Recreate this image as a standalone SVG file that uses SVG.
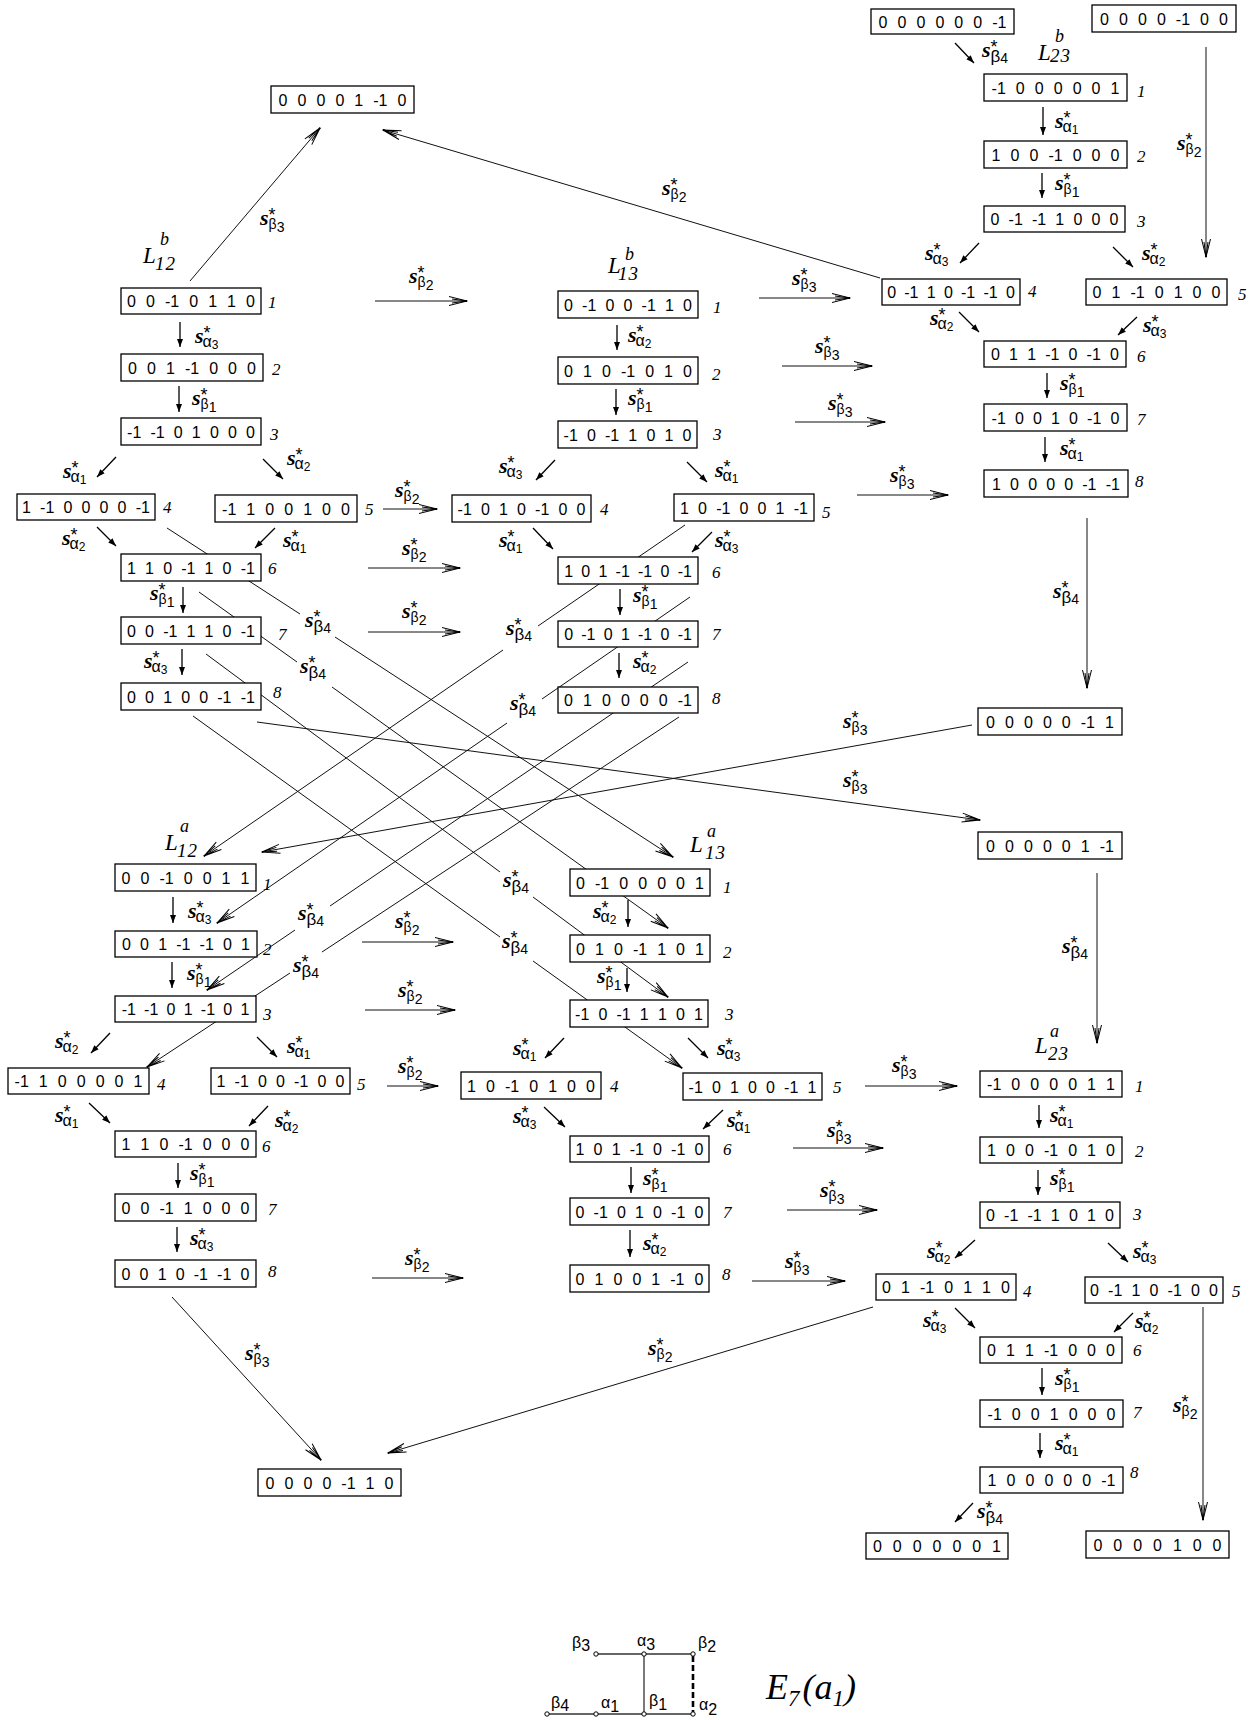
<svg xmlns="http://www.w3.org/2000/svg" width="1253" height="1720" viewBox="0 0 1253 1720">
<style>
.bx{fill:#fff;stroke:#000;stroke-width:1.3}
.v{font-family:"Liberation Sans",Arial,sans-serif;font-size:16px;text-anchor:middle;fill:#000}
.m0{word-spacing:6.5px}.m1{word-spacing:5.6px}.m2{word-spacing:4.7px}.m3{word-spacing:3.8px}
.n{font-family:"Liberation Serif",serif;font-style:italic;font-size:17px;fill:#000}
.ar{stroke:#000;stroke-width:1.3;fill:none;marker-end:url(#fh)}
.ln{stroke:#111;stroke-width:1;fill:none;marker-end:url(#oh)}
.lb{font-family:"Liberation Sans",Arial,sans-serif;fill:#000}
.s{font-family:"Liberation Serif",serif;font-style:italic;font-weight:bold;font-size:22px}
.st{font-size:18px}.sa{font-size:16px}.sd{font-size:12px}.sb{font-size:14px}.sg{font-size:17px}
.L{font-family:"Liberation Serif",serif;font-style:italic;font-size:23px;fill:#000}
.Lp{font-size:18px}.Ls{font-size:19px;letter-spacing:1px}
.dk{font-family:"Liberation Sans",Arial,sans-serif;font-size:16px;fill:#000}
.e7{font-family:"Liberation Serif",serif;font-style:italic;font-size:36px;fill:#000}
.e7s{font-size:23px}
</style>
<defs>
<marker id="fh" markerUnits="userSpaceOnUse" markerWidth="10" markerHeight="8" refX="8" refY="4" orient="auto"><path d="M0,1 L8,4 L0,7 Z" fill="#000"/></marker>
<marker id="oh" markerUnits="userSpaceOnUse" markerWidth="24" markerHeight="14" refX="20" refY="7" orient="auto" overflow="visible"><path d="M2,2.5 L20,7 L2,11.5 M5,5 L20,7 L5,9" fill="none" stroke="#000" stroke-width="1"/><circle cx="19.5" cy="7" r="1" fill="#000"/></marker>
</defs>
<rect width="1253" height="1720" fill="#fff"/>

<g id="groupLabels">
<text class="L"><tspan x="143" y="263">L</tspan><tspan class="Lp" x="160" y="245">b</tspan><tspan class="Ls" x="155" y="270">12</tspan></text>
<text class="L"><tspan x="608" y="273">L</tspan><tspan class="Lp" x="625" y="260">b</tspan><tspan class="Ls" x="618" y="280">13</tspan></text>
<text class="L"><tspan x="1038" y="60">L</tspan><tspan class="Lp" x="1055" y="42">b</tspan><tspan class="Ls" x="1050" y="62">23</tspan></text>
<text class="L"><tspan x="165" y="850">L</tspan><tspan class="Lp" x="180" y="832">a</tspan><tspan class="Ls" x="177" y="857">12</tspan></text>
<text class="L"><tspan x="690" y="852">L</tspan><tspan class="Lp" x="707" y="837">a</tspan><tspan class="Ls" x="705" y="859">13</tspan></text>
<text class="L"><tspan x="1035" y="1053">L</tspan><tspan class="Lp" x="1050" y="1037">a</tspan><tspan class="Ls" x="1048" y="1060">23</tspan></text>
</g>

<g id="connectors">
<line class="ar" x1="180" y1="322" x2="180" y2="347"/>
<line class="ar" x1="179" y1="386" x2="179" y2="412"/>
<line class="ar" x1="116" y1="457" x2="97" y2="477"/>
<line class="ar" x1="263" y1="459" x2="283" y2="479"/>
<line class="ar" x1="97" y1="527" x2="116" y2="546"/>
<line class="ar" x1="275" y1="528" x2="255" y2="548"/>
<line class="ar" x1="183" y1="587" x2="183" y2="613"/>
<line class="ar" x1="182" y1="649" x2="182" y2="675"/>
<line class="ar" x1="617" y1="325" x2="617" y2="350"/>
<line class="ar" x1="616" y1="389" x2="616" y2="415"/>
<line class="ar" x1="555" y1="460" x2="536" y2="480"/>
<line class="ar" x1="687" y1="462" x2="707" y2="482"/>
<line class="ar" x1="533" y1="528" x2="553" y2="549"/>
<line class="ar" x1="712" y1="532" x2="692" y2="552"/>
<line class="ar" x1="620" y1="589" x2="620" y2="615"/>
<line class="ar" x1="619" y1="653" x2="619" y2="678"/>
<line class="ar" x1="955" y1="43" x2="974" y2="63"/>
<line class="ar" x1="1043" y1="107" x2="1043" y2="135"/>
<line class="ar" x1="1042" y1="173" x2="1042" y2="198"/>
<line class="ar" x1="979" y1="243" x2="960" y2="263"/>
<line class="ar" x1="1113" y1="247" x2="1133" y2="267"/>
<line class="ar" x1="959" y1="312" x2="979" y2="332"/>
<line class="ar" x1="1137" y1="317" x2="1118" y2="335"/>
<line class="ar" x1="1047" y1="373" x2="1047" y2="398"/>
<line class="ar" x1="1045" y1="437" x2="1045" y2="462"/>
<line class="ar" x1="173" y1="897" x2="173" y2="923"/>
<line class="ar" x1="172" y1="962" x2="172" y2="988"/>
<line class="ar" x1="110" y1="1033" x2="91" y2="1053"/>
<line class="ar" x1="257" y1="1037" x2="277" y2="1057"/>
<line class="ar" x1="89" y1="1103" x2="110" y2="1123"/>
<line class="ar" x1="268" y1="1106" x2="249" y2="1126"/>
<line class="ar" x1="178" y1="1163" x2="178" y2="1188"/>
<line class="ar" x1="177" y1="1227" x2="177" y2="1252"/>
<line class="ar" x1="628" y1="900" x2="628" y2="927"/>
<line class="ar" x1="627" y1="968" x2="627" y2="992"/>
<line class="ar" x1="564" y1="1038" x2="545" y2="1058"/>
<line class="ar" x1="688" y1="1038" x2="708" y2="1058"/>
<line class="ar" x1="544" y1="1107" x2="565" y2="1127"/>
<line class="ar" x1="723" y1="1110" x2="703" y2="1129"/>
<line class="ar" x1="631" y1="1167" x2="631" y2="1193"/>
<line class="ar" x1="630" y1="1230" x2="630" y2="1257"/>
<line class="ar" x1="1039" y1="1105" x2="1039" y2="1128"/>
<line class="ar" x1="1038" y1="1170" x2="1038" y2="1195"/>
<line class="ar" x1="975" y1="1240" x2="955" y2="1258"/>
<line class="ar" x1="1108" y1="1243" x2="1128" y2="1262"/>
<line class="ar" x1="955" y1="1308" x2="975" y2="1328"/>
<line class="ar" x1="1133" y1="1313" x2="1114" y2="1332"/>
<line class="ar" x1="1042" y1="1368" x2="1042" y2="1395"/>
<line class="ar" x1="1040" y1="1433" x2="1040" y2="1458"/>
<line class="ar" x1="973" y1="1503" x2="955" y2="1522"/>

<path class="ln" d="M190,281 L320,128"/>
<path class="ln" d="M880,278 L383,130"/>
<path class="ln" d="M1206,47 L1206,257"/>
<path class="ln" d="M375,301 L467,301"/>
<path class="ln" d="M759,298 L850,298"/>
<path class="ln" d="M782,366 L872,366"/>
<path class="ln" d="M795,422 L885,422"/>
<path class="ln" d="M383,509 L437,509"/>
<path class="ln" d="M368,568 L460,568"/>
<path class="ln" d="M368,632 L460,632"/>
<path class="ln" d="M857,495 L948,495"/>
<path class="ln" d="M1087,518 L1087,688"/>
<path class="ln" d="M972,725 L262,852"/>
<path class="ln" d="M257,722 L980,820"/>
<path class="ln" d="M1097,873 L1097,1043"/>
<path class="ln" d="M167,528 L300,614 M335,637 L673,857"/>
<path class="ln" d="M199,592 L297,662 M332,687 L668,928"/>
<path class="ln" d="M206,654 L500,872 M533,897 L668,997"/>
<path class="ln" d="M193,716 L500,937 M533,961 L682,1068"/>
<path class="ln" d="M685,525 L538,626 M503,650 L204,856"/>
<path class="ln" d="M690,597 L542,699 M507,723 L217,923"/>
<path class="ln" d="M688,662 L330,906 M295,930 L207,990"/>
<path class="ln" d="M679,717 L322,952 M290,973 L147,1067"/>
<path class="ln" d="M362,942 L453,942"/>
<path class="ln" d="M365,1010 L455,1010"/>
<path class="ln" d="M387,1086 L438,1086"/>
<path class="ln" d="M372,1278 L463,1278"/>
<path class="ln" d="M865,1086 L957,1086"/>
<path class="ln" d="M793,1148 L883,1148"/>
<path class="ln" d="M787,1210 L877,1210"/>
<path class="ln" d="M752,1281 L845,1281"/>
<path class="ln" d="M172,1297 L321,1460"/>
<path class="ln" d="M873,1307 L388,1453"/>
<path class="ln" d="M1203,1307 L1203,1520"/>

<g id="edgeLabels">
<text class="lb" x="195" y="343"><tspan class="s">s</tspan><tspan class="st" dy="-4">*</tspan><tspan class="sa" dx="-8" dy="8">α</tspan><tspan class="sd" dy="2">3</tspan></text>
<text class="lb" x="192" y="405"><tspan class="s">s</tspan><tspan class="st" dy="-4">*</tspan><tspan class="sb" dx="-7" dy="8">β</tspan><tspan class="sb" dy="3">1</tspan></text>
<text class="lb" x="63" y="478"><tspan class="s">s</tspan><tspan class="st" dy="-4">*</tspan><tspan class="sa" dx="-8" dy="8">α</tspan><tspan class="sd" dy="2">1</tspan></text>
<text class="lb" x="287" y="465"><tspan class="s">s</tspan><tspan class="st" dy="-4">*</tspan><tspan class="sa" dx="-8" dy="8">α</tspan><tspan class="sd" dy="2">2</tspan></text>
<text class="lb" x="62" y="545"><tspan class="s">s</tspan><tspan class="st" dy="-4">*</tspan><tspan class="sa" dx="-8" dy="8">α</tspan><tspan class="sd" dy="2">2</tspan></text>
<text class="lb" x="283" y="547"><tspan class="s">s</tspan><tspan class="st" dy="-4">*</tspan><tspan class="sa" dx="-8" dy="8">α</tspan><tspan class="sd" dy="2">1</tspan></text>
<text class="lb" x="150" y="600"><tspan class="s">s</tspan><tspan class="st" dy="-4">*</tspan><tspan class="sb" dx="-7" dy="8">β</tspan><tspan class="sb" dy="3">1</tspan></text>
<text class="lb" x="144" y="668"><tspan class="s">s</tspan><tspan class="st" dy="-4">*</tspan><tspan class="sa" dx="-8" dy="8">α</tspan><tspan class="sd" dy="2">3</tspan></text>
<text class="lb" x="628" y="342"><tspan class="s">s</tspan><tspan class="st" dy="-4">*</tspan><tspan class="sa" dx="-8" dy="8">α</tspan><tspan class="sd" dy="2">2</tspan></text>
<text class="lb" x="628" y="405"><tspan class="s">s</tspan><tspan class="st" dy="-4">*</tspan><tspan class="sb" dx="-7" dy="8">β</tspan><tspan class="sb" dy="3">1</tspan></text>
<text class="lb" x="499" y="473"><tspan class="s">s</tspan><tspan class="st" dy="-4">*</tspan><tspan class="sa" dx="-8" dy="8">α</tspan><tspan class="sd" dy="2">3</tspan></text>
<text class="lb" x="715" y="477"><tspan class="s">s</tspan><tspan class="st" dy="-4">*</tspan><tspan class="sa" dx="-8" dy="8">α</tspan><tspan class="sd" dy="2">1</tspan></text>
<text class="lb" x="499" y="547"><tspan class="s">s</tspan><tspan class="st" dy="-4">*</tspan><tspan class="sa" dx="-8" dy="8">α</tspan><tspan class="sd" dy="2">1</tspan></text>
<text class="lb" x="715" y="547"><tspan class="s">s</tspan><tspan class="st" dy="-4">*</tspan><tspan class="sa" dx="-8" dy="8">α</tspan><tspan class="sd" dy="2">3</tspan></text>
<text class="lb" x="633" y="602"><tspan class="s">s</tspan><tspan class="st" dy="-4">*</tspan><tspan class="sb" dx="-7" dy="8">β</tspan><tspan class="sb" dy="3">1</tspan></text>
<text class="lb" x="633" y="668"><tspan class="s">s</tspan><tspan class="st" dy="-4">*</tspan><tspan class="sa" dx="-8" dy="8">α</tspan><tspan class="sd" dy="2">2</tspan></text>
<text class="lb" x="982" y="57"><tspan class="s">s</tspan><tspan class="st" dy="-4">*</tspan><tspan class="sg" dx="-7" dy="9">β</tspan><tspan class="sb" dy="1">4</tspan></text>
<text class="lb" x="1055" y="128"><tspan class="s">s</tspan><tspan class="st" dy="-4">*</tspan><tspan class="sa" dx="-8" dy="8">α</tspan><tspan class="sd" dy="2">1</tspan></text>
<text class="lb" x="1055" y="190"><tspan class="s">s</tspan><tspan class="st" dy="-4">*</tspan><tspan class="sb" dx="-7" dy="8">β</tspan><tspan class="sb" dy="3">1</tspan></text>
<text class="lb" x="925" y="260"><tspan class="s">s</tspan><tspan class="st" dy="-4">*</tspan><tspan class="sa" dx="-8" dy="8">α</tspan><tspan class="sd" dy="2">3</tspan></text>
<text class="lb" x="1142" y="260"><tspan class="s">s</tspan><tspan class="st" dy="-4">*</tspan><tspan class="sa" dx="-8" dy="8">α</tspan><tspan class="sd" dy="2">2</tspan></text>
<text class="lb" x="930" y="325"><tspan class="s">s</tspan><tspan class="st" dy="-4">*</tspan><tspan class="sa" dx="-8" dy="8">α</tspan><tspan class="sd" dy="2">2</tspan></text>
<text class="lb" x="1143" y="332"><tspan class="s">s</tspan><tspan class="st" dy="-4">*</tspan><tspan class="sa" dx="-8" dy="8">α</tspan><tspan class="sd" dy="2">3</tspan></text>
<text class="lb" x="1060" y="390"><tspan class="s">s</tspan><tspan class="st" dy="-4">*</tspan><tspan class="sb" dx="-7" dy="8">β</tspan><tspan class="sb" dy="3">1</tspan></text>
<text class="lb" x="1060" y="455"><tspan class="s">s</tspan><tspan class="st" dy="-4">*</tspan><tspan class="sa" dx="-8" dy="8">α</tspan><tspan class="sd" dy="2">1</tspan></text>
<text class="lb" x="188" y="918"><tspan class="s">s</tspan><tspan class="st" dy="-4">*</tspan><tspan class="sa" dx="-8" dy="8">α</tspan><tspan class="sd" dy="2">3</tspan></text>
<text class="lb" x="187" y="980"><tspan class="s">s</tspan><tspan class="st" dy="-4">*</tspan><tspan class="sb" dx="-7" dy="8">β</tspan><tspan class="sb" dy="3">1</tspan></text>
<text class="lb" x="55" y="1048"><tspan class="s">s</tspan><tspan class="st" dy="-4">*</tspan><tspan class="sa" dx="-8" dy="8">α</tspan><tspan class="sd" dy="2">2</tspan></text>
<text class="lb" x="287" y="1053"><tspan class="s">s</tspan><tspan class="st" dy="-4">*</tspan><tspan class="sa" dx="-8" dy="8">α</tspan><tspan class="sd" dy="2">1</tspan></text>
<text class="lb" x="55" y="1122"><tspan class="s">s</tspan><tspan class="st" dy="-4">*</tspan><tspan class="sa" dx="-8" dy="8">α</tspan><tspan class="sd" dy="2">1</tspan></text>
<text class="lb" x="275" y="1127"><tspan class="s">s</tspan><tspan class="st" dy="-4">*</tspan><tspan class="sa" dx="-8" dy="8">α</tspan><tspan class="sd" dy="2">2</tspan></text>
<text class="lb" x="190" y="1180"><tspan class="s">s</tspan><tspan class="st" dy="-4">*</tspan><tspan class="sb" dx="-7" dy="8">β</tspan><tspan class="sb" dy="3">1</tspan></text>
<text class="lb" x="190" y="1245"><tspan class="s">s</tspan><tspan class="st" dy="-4">*</tspan><tspan class="sa" dx="-8" dy="8">α</tspan><tspan class="sd" dy="2">3</tspan></text>
<text class="lb" x="593" y="918"><tspan class="s">s</tspan><tspan class="st" dy="-4">*</tspan><tspan class="sa" dx="-8" dy="8">α</tspan><tspan class="sd" dy="2">2</tspan></text>
<text class="lb" x="597" y="983"><tspan class="s">s</tspan><tspan class="st" dy="-4">*</tspan><tspan class="sb" dx="-7" dy="8">β</tspan><tspan class="sb" dy="3">1</tspan></text>
<text class="lb" x="513" y="1055"><tspan class="s">s</tspan><tspan class="st" dy="-4">*</tspan><tspan class="sa" dx="-8" dy="8">α</tspan><tspan class="sd" dy="2">1</tspan></text>
<text class="lb" x="717" y="1055"><tspan class="s">s</tspan><tspan class="st" dy="-4">*</tspan><tspan class="sa" dx="-8" dy="8">α</tspan><tspan class="sd" dy="2">3</tspan></text>
<text class="lb" x="513" y="1123"><tspan class="s">s</tspan><tspan class="st" dy="-4">*</tspan><tspan class="sa" dx="-8" dy="8">α</tspan><tspan class="sd" dy="2">3</tspan></text>
<text class="lb" x="727" y="1127"><tspan class="s">s</tspan><tspan class="st" dy="-4">*</tspan><tspan class="sa" dx="-8" dy="8">α</tspan><tspan class="sd" dy="2">1</tspan></text>
<text class="lb" x="643" y="1185"><tspan class="s">s</tspan><tspan class="st" dy="-4">*</tspan><tspan class="sb" dx="-7" dy="8">β</tspan><tspan class="sb" dy="3">1</tspan></text>
<text class="lb" x="643" y="1250"><tspan class="s">s</tspan><tspan class="st" dy="-4">*</tspan><tspan class="sa" dx="-8" dy="8">α</tspan><tspan class="sd" dy="2">2</tspan></text>
<text class="lb" x="1050" y="1122"><tspan class="s">s</tspan><tspan class="st" dy="-4">*</tspan><tspan class="sa" dx="-8" dy="8">α</tspan><tspan class="sd" dy="2">1</tspan></text>
<text class="lb" x="1050" y="1185"><tspan class="s">s</tspan><tspan class="st" dy="-4">*</tspan><tspan class="sb" dx="-7" dy="8">β</tspan><tspan class="sb" dy="3">1</tspan></text>
<text class="lb" x="927" y="1258"><tspan class="s">s</tspan><tspan class="st" dy="-4">*</tspan><tspan class="sa" dx="-8" dy="8">α</tspan><tspan class="sd" dy="2">2</tspan></text>
<text class="lb" x="1133" y="1258"><tspan class="s">s</tspan><tspan class="st" dy="-4">*</tspan><tspan class="sa" dx="-8" dy="8">α</tspan><tspan class="sd" dy="2">3</tspan></text>
<text class="lb" x="923" y="1327"><tspan class="s">s</tspan><tspan class="st" dy="-4">*</tspan><tspan class="sa" dx="-8" dy="8">α</tspan><tspan class="sd" dy="2">3</tspan></text>
<text class="lb" x="1135" y="1328"><tspan class="s">s</tspan><tspan class="st" dy="-4">*</tspan><tspan class="sa" dx="-8" dy="8">α</tspan><tspan class="sd" dy="2">2</tspan></text>
<text class="lb" x="1055" y="1385"><tspan class="s">s</tspan><tspan class="st" dy="-4">*</tspan><tspan class="sb" dx="-7" dy="8">β</tspan><tspan class="sb" dy="3">1</tspan></text>
<text class="lb" x="1055" y="1450"><tspan class="s">s</tspan><tspan class="st" dy="-4">*</tspan><tspan class="sa" dx="-8" dy="8">α</tspan><tspan class="sd" dy="2">1</tspan></text>
<text class="lb" x="977" y="1518"><tspan class="s">s</tspan><tspan class="st" dy="-4">*</tspan><tspan class="sg" dx="-7" dy="9">β</tspan><tspan class="sb" dy="1">4</tspan></text>

<text class="lb" x="260" y="225"><tspan class="s">s</tspan><tspan class="st" dy="-4">*</tspan><tspan class="sb" dx="-7" dy="8">β</tspan><tspan class="sb" dy="3">3</tspan></text>
<text class="lb" x="662" y="195"><tspan class="s">s</tspan><tspan class="st" dy="-4">*</tspan><tspan class="sb" dx="-7" dy="8">β</tspan><tspan class="sb" dy="3">2</tspan></text>
<text class="lb" x="1177" y="150"><tspan class="s">s</tspan><tspan class="st" dy="-4">*</tspan><tspan class="sb" dx="-7" dy="8">β</tspan><tspan class="sb" dy="3">2</tspan></text>
<text class="lb" x="409" y="283"><tspan class="s">s</tspan><tspan class="st" dy="-4">*</tspan><tspan class="sb" dx="-7" dy="8">β</tspan><tspan class="sb" dy="3">2</tspan></text>
<text class="lb" x="792" y="285"><tspan class="s">s</tspan><tspan class="st" dy="-4">*</tspan><tspan class="sb" dx="-7" dy="8">β</tspan><tspan class="sb" dy="3">3</tspan></text>
<text class="lb" x="815" y="353"><tspan class="s">s</tspan><tspan class="st" dy="-4">*</tspan><tspan class="sb" dx="-7" dy="8">β</tspan><tspan class="sb" dy="3">3</tspan></text>
<text class="lb" x="828" y="410"><tspan class="s">s</tspan><tspan class="st" dy="-4">*</tspan><tspan class="sb" dx="-7" dy="8">β</tspan><tspan class="sb" dy="3">3</tspan></text>
<text class="lb" x="890" y="482"><tspan class="s">s</tspan><tspan class="st" dy="-4">*</tspan><tspan class="sb" dx="-7" dy="8">β</tspan><tspan class="sb" dy="3">3</tspan></text>
<text class="lb" x="395" y="497"><tspan class="s">s</tspan><tspan class="st" dy="-4">*</tspan><tspan class="sb" dx="-7" dy="8">β</tspan><tspan class="sb" dy="3">2</tspan></text>
<text class="lb" x="402" y="555"><tspan class="s">s</tspan><tspan class="st" dy="-4">*</tspan><tspan class="sb" dx="-7" dy="8">β</tspan><tspan class="sb" dy="3">2</tspan></text>
<text class="lb" x="402" y="618"><tspan class="s">s</tspan><tspan class="st" dy="-4">*</tspan><tspan class="sb" dx="-7" dy="8">β</tspan><tspan class="sb" dy="3">2</tspan></text>
<text class="lb" x="1053" y="598"><tspan class="s">s</tspan><tspan class="st" dy="-4">*</tspan><tspan class="sg" dx="-7" dy="9">β</tspan><tspan class="sb" dy="1">4</tspan></text>
<text class="lb" x="843" y="728"><tspan class="s">s</tspan><tspan class="st" dy="-4">*</tspan><tspan class="sb" dx="-7" dy="8">β</tspan><tspan class="sb" dy="3">3</tspan></text>
<text class="lb" x="843" y="787"><tspan class="s">s</tspan><tspan class="st" dy="-4">*</tspan><tspan class="sb" dx="-7" dy="8">β</tspan><tspan class="sb" dy="3">3</tspan></text>
<text class="lb" x="1062" y="953"><tspan class="s">s</tspan><tspan class="st" dy="-4">*</tspan><tspan class="sg" dx="-7" dy="9">β</tspan><tspan class="sb" dy="1">4</tspan></text>
<text class="lb" x="892" y="1072"><tspan class="s">s</tspan><tspan class="st" dy="-4">*</tspan><tspan class="sb" dx="-7" dy="8">β</tspan><tspan class="sb" dy="3">3</tspan></text>
<text class="lb" x="827" y="1137"><tspan class="s">s</tspan><tspan class="st" dy="-4">*</tspan><tspan class="sb" dx="-7" dy="8">β</tspan><tspan class="sb" dy="3">3</tspan></text>
<text class="lb" x="820" y="1197"><tspan class="s">s</tspan><tspan class="st" dy="-4">*</tspan><tspan class="sb" dx="-7" dy="8">β</tspan><tspan class="sb" dy="3">3</tspan></text>
<text class="lb" x="785" y="1268"><tspan class="s">s</tspan><tspan class="st" dy="-4">*</tspan><tspan class="sb" dx="-7" dy="8">β</tspan><tspan class="sb" dy="3">3</tspan></text>
<text class="lb" x="395" y="928"><tspan class="s">s</tspan><tspan class="st" dy="-4">*</tspan><tspan class="sb" dx="-7" dy="8">β</tspan><tspan class="sb" dy="3">2</tspan></text>
<text class="lb" x="398" y="997"><tspan class="s">s</tspan><tspan class="st" dy="-4">*</tspan><tspan class="sb" dx="-7" dy="8">β</tspan><tspan class="sb" dy="3">2</tspan></text>
<text class="lb" x="398" y="1073"><tspan class="s">s</tspan><tspan class="st" dy="-4">*</tspan><tspan class="sb" dx="-7" dy="8">β</tspan><tspan class="sb" dy="3">2</tspan></text>
<text class="lb" x="405" y="1265"><tspan class="s">s</tspan><tspan class="st" dy="-4">*</tspan><tspan class="sb" dx="-7" dy="8">β</tspan><tspan class="sb" dy="3">2</tspan></text>
<text class="lb" x="245" y="1360"><tspan class="s">s</tspan><tspan class="st" dy="-4">*</tspan><tspan class="sb" dx="-7" dy="8">β</tspan><tspan class="sb" dy="3">3</tspan></text>
<text class="lb" x="648" y="1355"><tspan class="s">s</tspan><tspan class="st" dy="-4">*</tspan><tspan class="sb" dx="-7" dy="8">β</tspan><tspan class="sb" dy="3">2</tspan></text>
<text class="lb" x="1173" y="1412"><tspan class="s">s</tspan><tspan class="st" dy="-4">*</tspan><tspan class="sb" dx="-7" dy="8">β</tspan><tspan class="sb" dy="3">2</tspan></text>
<text class="lb" x="305" y="627"><tspan class="s">s</tspan><tspan class="st" dy="-4">*</tspan><tspan class="sg" dx="-7" dy="9">β</tspan><tspan class="sb" dy="1">4</tspan></text>
<text class="lb" x="300" y="673"><tspan class="s">s</tspan><tspan class="st" dy="-4">*</tspan><tspan class="sg" dx="-7" dy="9">β</tspan><tspan class="sb" dy="1">4</tspan></text>
<text class="lb" x="506" y="635"><tspan class="s">s</tspan><tspan class="st" dy="-4">*</tspan><tspan class="sg" dx="-7" dy="9">β</tspan><tspan class="sb" dy="1">4</tspan></text>
<text class="lb" x="510" y="710"><tspan class="s">s</tspan><tspan class="st" dy="-4">*</tspan><tspan class="sg" dx="-7" dy="9">β</tspan><tspan class="sb" dy="1">4</tspan></text>
<text class="lb" x="503" y="887"><tspan class="s">s</tspan><tspan class="st" dy="-4">*</tspan><tspan class="sg" dx="-7" dy="9">β</tspan><tspan class="sb" dy="1">4</tspan></text>
<text class="lb" x="502" y="948"><tspan class="s">s</tspan><tspan class="st" dy="-4">*</tspan><tspan class="sg" dx="-7" dy="9">β</tspan><tspan class="sb" dy="1">4</tspan></text>
<text class="lb" x="298" y="920"><tspan class="s">s</tspan><tspan class="st" dy="-4">*</tspan><tspan class="sg" dx="-7" dy="9">β</tspan><tspan class="sb" dy="1">4</tspan></text>
<text class="lb" x="293" y="972"><tspan class="s">s</tspan><tspan class="st" dy="-4">*</tspan><tspan class="sg" dx="-7" dy="9">β</tspan><tspan class="sb" dy="1">4</tspan></text>
</g>
</g>

<g id="T1"><rect class="bx" x="271" y="86" width="143" height="27"/><text class="v m1" x="342.5" y="105.5">0 0 0 0 1 -1 0</text></g>
<g id="T2"><rect class="bx" x="871" y="9" width="143" height="25"/><text class="v m1" x="942.5" y="27.5">0 0 0 0 0 0 -1</text></g>
<g id="T3"><rect class="bx" x="1092" y="5" width="144" height="27"/><text class="v m1" x="1164" y="24.5">0 0 0 0 -1 0 0</text></g>

<g id="L12b-1"><rect class="bx" x="121" y="288" width="140" height="26"/><text class="v m1" x="191" y="307">0 0 -1 0 1 1 0</text><text class="n" x="268" y="308">1</text></g>
<g id="L12b-2"><rect class="bx" x="121" y="354" width="142" height="27"/><text class="v m1" x="192" y="373.5">0 0 1 -1 0 0 0</text><text class="n" x="272" y="375">2</text></g>
<g id="L12b-3"><rect class="bx" x="121" y="418" width="140" height="27"/><text class="v m2" x="191" y="437.5">-1 -1 0 1 0 0 0</text><text class="n" x="270" y="440">3</text></g>
<g id="L12b-4"><rect class="bx" x="17" y="494" width="138" height="26"/><text class="v m2" x="86" y="513">1 -1 0 0 0 0 -1</text><text class="n" x="163" y="513">4</text></g>
<g id="L12b-5"><rect class="bx" x="215" y="495" width="142" height="27"/><text class="v m1" x="286" y="514.5">-1 1 0 0 1 0 0</text><text class="n" x="365" y="515">5</text></g>
<g id="L12b-6"><rect class="bx" x="121" y="554" width="140" height="27"/><text class="v m2" x="191" y="573.5">1 1 0 -1 1 0 -1</text><text class="n" x="268" y="574">6</text></g>
<g id="L12b-7"><rect class="bx" x="121" y="617" width="140" height="27"/><text class="v m2" x="191" y="636.5">0 0 -1 1 1 0 -1</text><text class="n" x="278" y="640">7</text></g>
<g id="L12b-8"><rect class="bx" x="121" y="683" width="140" height="27"/><text class="v m2" x="191" y="702.5">0 0 1 0 0 -1 -1</text><text class="n" x="273" y="698">8</text></g>

<g id="L13b-1"><rect class="bx" x="558" y="291" width="140" height="27"/><text class="v m2" x="628" y="310.5">0 -1 0 0 -1 1 0</text><text class="n" x="713" y="313">1</text></g>
<g id="L13b-2"><rect class="bx" x="558" y="357" width="140" height="27"/><text class="v m1" x="628" y="376.5">0 1 0 -1 0 1 0</text><text class="n" x="712" y="380">2</text></g>
<g id="L13b-3"><rect class="bx" x="558" y="421" width="139" height="27"/><text class="v m2" x="627.5" y="440.5">-1 0 -1 1 0 1 0</text><text class="n" x="713" y="440">3</text></g>
<g id="L13b-4"><rect class="bx" x="452" y="495" width="139" height="27"/><text class="v m2" x="521.5" y="514.5">-1 0 1 0 -1 0 0</text><text class="n" x="600" y="515">4</text></g>
<g id="L13b-5"><rect class="bx" x="674" y="494" width="140" height="27"/><text class="v m2" x="744" y="513.5">1 0 -1 0 0 1 -1</text><text class="n" x="822" y="518">5</text></g>
<g id="L13b-6"><rect class="bx" x="558" y="557" width="140" height="27"/><text class="v m3" x="628" y="576.5">1 0 1 -1 -1 0 -1</text><text class="n" x="712" y="578">6</text></g>
<g id="L13b-7"><rect class="bx" x="558" y="621" width="140" height="26"/><text class="v m3" x="628" y="640">0 -1 0 1 -1 0 -1</text><text class="n" x="712" y="640">7</text></g>
<g id="L13b-8"><rect class="bx" x="558" y="687" width="140" height="26"/><text class="v m1" x="628" y="706">0 1 0 0 0 0 -1</text><text class="n" x="712" y="704">8</text></g>

<g id="L23b-1"><rect class="bx" x="984" y="74" width="143" height="27"/><text class="v m1" x="1055.5" y="93.5">-1 0 0 0 0 0 1</text><text class="n" x="1137" y="97">1</text></g>
<g id="L23b-2"><rect class="bx" x="984" y="141" width="143" height="27"/><text class="v m1" x="1055.5" y="160.5">1 0 0 -1 0 0 0</text><text class="n" x="1137" y="162">2</text></g>
<g id="L23b-3"><rect class="bx" x="984" y="206" width="141" height="26"/><text class="v m2" x="1054.5" y="225">0 -1 -1 1 0 0 0</text><text class="n" x="1137" y="227">3</text></g>
<g id="L23b-4"><rect class="bx" x="882" y="279" width="138" height="26"/><text class="v m3" x="951" y="298">0 -1 1 0 -1 -1 0</text><text class="n" x="1028" y="297">4</text></g>
<g id="L23b-5"><rect class="bx" x="1086" y="279" width="141" height="26"/><text class="v m1" x="1156.5" y="298">0 1 -1 0 1 0 0</text><text class="n" x="1238" y="300">5</text></g>
<g id="L23b-6"><rect class="bx" x="984" y="341" width="142" height="26"/><text class="v m2" x="1055" y="360">0 1 1 -1 0 -1 0</text><text class="n" x="1137" y="362">6</text></g>
<g id="L23b-7"><rect class="bx" x="984" y="404" width="143" height="27"/><text class="v m2" x="1055.5" y="423.5">-1 0 0 1 0 -1 0</text><text class="n" x="1137" y="425">7</text></g>
<g id="L23b-8"><rect class="bx" x="984" y="470" width="144" height="27"/><text class="v m2" x="1056" y="489.5">1 0 0 0 0 -1 -1</text><text class="n" x="1135" y="487">8</text></g>

<g id="M1"><rect class="bx" x="978" y="708" width="144" height="27"/><text class="v m1" x="1050" y="727.5">0 0 0 0 0 -1 1</text></g>
<g id="M2"><rect class="bx" x="978" y="832" width="144" height="27"/><text class="v m1" x="1050" y="851.5">0 0 0 0 0 1 -1</text></g>

<g id="L12a-1"><rect class="bx" x="115" y="864" width="141" height="27"/><text class="v m1" x="185.5" y="883.5">0 0 -1 0 0 1 1</text><text class="n" x="263" y="890">1</text></g>
<g id="L12a-2"><rect class="bx" x="115" y="931" width="142" height="26"/><text class="v m2" x="186" y="950">0 0 1 -1 -1 0 1</text><text class="n" x="263" y="955">2</text></g>
<g id="L12a-3"><rect class="bx" x="115" y="996" width="141" height="26"/><text class="v m3" x="185.5" y="1015">-1 -1 0 1 -1 0 1</text><text class="n" x="263" y="1020">3</text></g>
<g id="L12a-4"><rect class="bx" x="8" y="1068" width="141" height="26"/><text class="v m1" x="78.5" y="1087">-1 1 0 0 0 0 1</text><text class="n" x="157" y="1090">4</text></g>
<g id="L12a-5"><rect class="bx" x="211" y="1068" width="139" height="26"/><text class="v m2" x="280.5" y="1087">1 -1 0 0 -1 0 0</text><text class="n" x="357" y="1090">5</text></g>
<g id="L12a-6"><rect class="bx" x="115" y="1131" width="141" height="26"/><text class="v m1" x="185.5" y="1150">1 1 0 -1 0 0 0</text><text class="n" x="262" y="1152">6</text></g>
<g id="L12a-7"><rect class="bx" x="115" y="1194" width="141" height="27"/><text class="v m1" x="185.5" y="1213.5">0 0 -1 1 0 0 0</text><text class="n" x="268" y="1215">7</text></g>
<g id="L12a-8"><rect class="bx" x="115" y="1260" width="141" height="27"/><text class="v m2" x="185.5" y="1279.5">0 0 1 0 -1 -1 0</text><text class="n" x="268" y="1277">8</text></g>

<g id="L13a-1"><rect class="bx" x="570" y="869" width="140" height="27"/><text class="v m1" x="640" y="888.5">0 -1 0 0 0 0 1</text><text class="n" x="723" y="893">1</text></g>
<g id="L13a-2"><rect class="bx" x="570" y="935" width="140" height="27"/><text class="v m1" x="640" y="954.5">0 1 0 -1 1 0 1</text><text class="n" x="723" y="958">2</text></g>
<g id="L13a-3"><rect class="bx" x="570" y="1000" width="138" height="27"/><text class="v m2" x="639" y="1019.5">-1 0 -1 1 1 0 1</text><text class="n" x="725" y="1020">3</text></g>
<g id="L13a-4"><rect class="bx" x="461" y="1072" width="140" height="27"/><text class="v m1" x="531" y="1091.5">1 0 -1 0 1 0 0</text><text class="n" x="610" y="1092">4</text></g>
<g id="L13a-5"><rect class="bx" x="683" y="1073" width="139" height="27"/><text class="v m2" x="752.5" y="1092.5">-1 0 1 0 0 -1 1</text><text class="n" x="833" y="1093">5</text></g>
<g id="L13a-6"><rect class="bx" x="570" y="1136" width="139" height="26"/><text class="v m2" x="639.5" y="1155">1 0 1 -1 0 -1 0</text><text class="n" x="723" y="1155">6</text></g>
<g id="L13a-7"><rect class="bx" x="570" y="1198" width="139" height="27"/><text class="v m2" x="639.5" y="1217.5">0 -1 0 1 0 -1 0</text><text class="n" x="723" y="1218">7</text></g>
<g id="L13a-8"><rect class="bx" x="570" y="1265" width="139" height="27"/><text class="v m1" x="639.5" y="1284.5">0 1 0 0 1 -1 0</text><text class="n" x="722" y="1280">8</text></g>

<g id="L23a-1"><rect class="bx" x="980" y="1071" width="142" height="26"/><text class="v m1" x="1051" y="1090">-1 0 0 0 0 1 1</text><text class="n" x="1135" y="1092">1</text></g>
<g id="L23a-2"><rect class="bx" x="980" y="1137" width="142" height="26"/><text class="v m1" x="1051" y="1156">1 0 0 -1 0 1 0</text><text class="n" x="1135" y="1157">2</text></g>
<g id="L23a-3"><rect class="bx" x="980" y="1202" width="140" height="26"/><text class="v m2" x="1050" y="1221">0 -1 -1 1 0 1 0</text><text class="n" x="1133" y="1220">3</text></g>
<g id="L23a-4"><rect class="bx" x="876" y="1274" width="140" height="26"/><text class="v m1" x="946" y="1293">0 1 -1 0 1 1 0</text><text class="n" x="1023" y="1297">4</text></g>
<g id="L23a-5"><rect class="bx" x="1085" y="1277" width="138" height="26"/><text class="v m2" x="1154" y="1296">0 -1 1 0 -1 0 0</text><text class="n" x="1232" y="1297">5</text></g>
<g id="L23a-6"><rect class="bx" x="980" y="1337" width="142" height="26"/><text class="v m1" x="1051" y="1356">0 1 1 -1 0 0 0</text><text class="n" x="1133" y="1356">6</text></g>
<g id="L23a-7"><rect class="bx" x="980" y="1400" width="143" height="27"/><text class="v m1" x="1051.5" y="1419.5">-1 0 0 1 0 0 0</text><text class="n" x="1133" y="1418">7</text></g>
<g id="L23a-8"><rect class="bx" x="980" y="1467" width="143" height="26"/><text class="v m1" x="1051.5" y="1486">1 0 0 0 0 0 -1</text><text class="n" x="1130" y="1478">8</text></g>

<g id="B1"><rect class="bx" x="258" y="1469" width="143" height="27"/><text class="v m1" x="329.5" y="1488.5">0 0 0 0 -1 1 0</text></g>
<g id="B2"><rect class="bx" x="866" y="1533" width="142" height="26"/><text class="v m0" x="937" y="1552">0 0 0 0 0 0 1</text></g>
<g id="B3"><rect class="bx" x="1086" y="1531" width="143" height="27"/><text class="v m0" x="1157.5" y="1550.5">0 0 0 0 1 0 0</text></g>

<g id="dynkin">
<path d="M596,1654 H693 M547,1714 H693 M644,1654 V1714" stroke="#333" stroke-width="1.3" fill="none"/>
<path d="M693,1656 V1712" stroke="#000" stroke-width="2.6" stroke-dasharray="6,3" fill="none"/>
<g fill="#fff" stroke="#000" stroke-width="1">
<circle cx="596" cy="1654" r="2.2"/><circle cx="644" cy="1654" r="2.2"/><circle cx="693" cy="1654" r="2.2"/>
<circle cx="547" cy="1714" r="2.2"/><circle cx="596" cy="1714" r="2.2"/><circle cx="644" cy="1714" r="2.2"/><circle cx="693" cy="1714" r="2.2"/>
</g>
<text class="dk" x="572" y="1648">β<tspan dy="3">3</tspan></text>
<text class="dk" x="637" y="1646">α<tspan dy="4">3</tspan></text>
<text class="dk" x="698" y="1648">β<tspan dy="4">2</tspan></text>
<text class="dk" x="551" y="1708">β<tspan dy="3">4</tspan></text>
<text class="dk" x="601" y="1708">α<tspan dy="4">1</tspan></text>
<text class="dk" x="649" y="1706">β<tspan dy="4">1</tspan></text>
<text class="dk" x="699" y="1710">α<tspan dy="5">2</tspan></text>
<text class="e7" x="766" y="1699">E<tspan class="e7s" dy="7">7</tspan><tspan dy="-7" dx="3">(</tspan><tspan>a</tspan><tspan class="e7s" dy="7">1</tspan><tspan dy="-7">)</tspan></text>
</g>
</svg>
